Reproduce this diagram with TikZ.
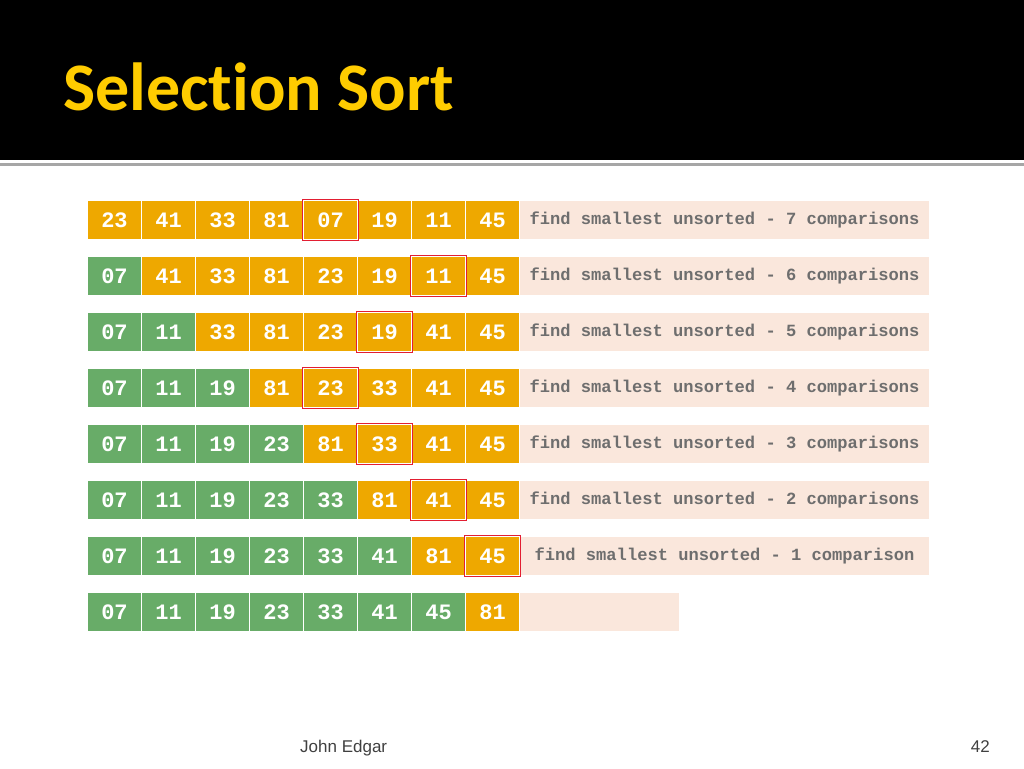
\documentclass[tikz,border=0pt]{standalone}
\usepackage{fontspec}
\setmainfont{Liberation Sans}
\newfontfamily\titlefont[RawFeature=-liga;-dlig]{Carlito}
\newfontfamily\monofont{Liberation Mono}
\definecolor{cellorange}{RGB}{238,168,0}
\definecolor{cellgreen}{RGB}{104,172,104}
\definecolor{descbg}{RGB}{250,231,220}
\definecolor{desctext}{RGB}{110,110,110}
\definecolor{titleyellow}{RGB}{255,204,0}
\definecolor{hlred}{RGB}{226,30,50}
\tikzset{
  cellbox/.style={minimum width=53pt, minimum height=38pt, inner sep=0pt, text=white,
    font=\monofont\bfseries\fontsize{22}{22}\selectfont},
  unsorted/.style={cellbox, fill=cellorange},
  sorted/.style={cellbox, fill=cellgreen},
  descbox/.style={fill=descbg, minimum height=38pt, inner sep=0pt, text=desctext,
    font=\monofont\bfseries\fontsize{17.1}{17.1}\selectfont},
  hlbox/.style={draw=hlred, line width=1.3pt},
}
\begin{document}
\begin{tikzpicture}[x=1pt,y=-1pt]
\useasboundingbox (0,0) rectangle (1024,768);
\fill[white] (0,0) rectangle (1024,768);
\fill[black] (0,0) rectangle (1024,160);
\draw[gray!70, line width=3pt] (0,164) -- (1024,164);
\node[anchor=base west, inner sep=0pt, text=titleyellow, font=\titlefont\bfseries\fontsize{68}{68}\selectfont] (title) at (63,110) {Selection Sort};

\foreach \r/\vals/\ng/\hl/\desc in {
  1/{23,41,33,81,07,19,11,45}/0/5/{find smallest unsorted - 7 comparisons},
  2/{07,41,33,81,23,19,11,45}/1/7/{find smallest unsorted - 6 comparisons},
  3/{07,11,33,81,23,19,41,45}/2/6/{find smallest unsorted - 5 comparisons},
  4/{07,11,19,81,23,33,41,45}/3/5/{find smallest unsorted - 4 comparisons},
  5/{07,11,19,23,81,33,41,45}/4/6/{find smallest unsorted - 3 comparisons},
  6/{07,11,19,23,33,81,41,45}/5/7/{find smallest unsorted - 2 comparisons},
  7/{07,11,19,23,33,41,81,45}/6/8/{find smallest unsorted - 1 comparison}} {
  \pgfmathsetmacro{\yy}{220+56*(\r-1)}
  \foreach \v [count=\c] in \vals {
    \ifnum\c>\ng
      \node[unsorted] (c\r-\c) at ({114.5+54*(\c-1)},\yy) {\v};
    \else
      \node[sorted] (c\r-\c) at ({114.5+54*(\c-1)},\yy) {\v};
    \fi
  }
  \node[descbox, minimum width=409pt] (d\r) at (724.5,\yy) {\desc};
  \draw[hlbox] ([shift={(-1.5,-1.5)}]c\r-\hl.north west) rectangle ([shift={(1.5,1.5)}]c\r-\hl.south east);
}
\foreach \v [count=\c] in {07,11,19,23,33,41,45,81} {
  \ifnum\c>7
    \node[unsorted] (c8-\c) at ({114.5+54*(\c-1)},612) {\v};
  \else
    \node[sorted] (c8-\c) at ({114.5+54*(\c-1)},612) {\v};
  \fi
}
\node[descbox, minimum width=159pt] (d8) at (599.5,612) {};

\node[anchor=base west, inner sep=0pt, text=black!75, font=\fontsize{17}{17}\selectfont] (author) at (300,752) {John Edgar};
\node[anchor=base east, inner sep=0pt, text=black!75, font=\fontsize{17}{17}\selectfont] (page) at (990,752) {42};
\end{tikzpicture}
\end{document}
